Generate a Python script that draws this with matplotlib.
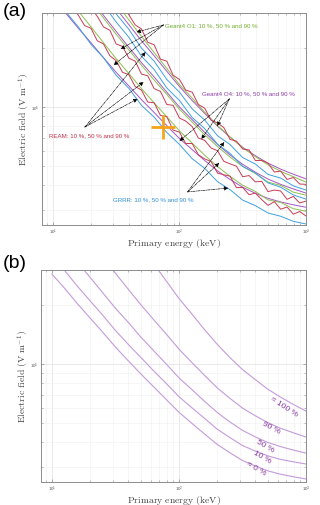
"""Runaway feasibility curves: simulated (a) and modelled (b) thresholds."""

import matplotlib.pyplot as plt
import numpy as np
from matplotlib.ticker import LogLocator, NullFormatter

plt.rcParams["mathtext.fontset"] = "cm"
plt.rcParams["font.family"] = ["Liberation Sans", "DejaVu Sans"]

# energy grids (keV), 0.05 and 0.1 decade steps, every series ends at 1 MeV
E_FINE = [10.0, 11.2, 12.6, 14.1, 15.8, 17.8, 20.0, 22.4, 25.1, 28.2, 31.6,
          35.5, 39.8, 44.7, 50.1, 56.2, 63.1, 70.8, 79.4, 89.1, 100, 112,
          126, 141, 158, 178, 200, 224, 251, 282, 316, 355, 398, 447, 501,
          562, 631, 708, 794, 891, 1000]
E_COARSE = [10.0, 12.6, 15.8, 20.0, 25.1, 31.6, 39.8, 50.1, 63.1, 79.4, 100,
            126, 158, 200, 251, 316, 398, 501, 631, 794, 1000]

# panel (a), field in kV/m
REAM_10 = [323, 294, 259, 251, 217, 209, 182, 172, 150, 146, 127, 122, 106,
           105, 90.6, 89.5, 76.4, 74.6, 65.3, 65.3, 57.3, 54.6, 52.9, 46.2,
           45.3, 44.6, 39.0, 39.1, 35.9, 36.6, 33.9, 31.7, 33.1, 30.3, 31.1,
           28.6, 29.5, 28.0]
REAM_50 = [318, 289, 255, 245, 209, 203, 177, 171, 147, 144, 124, 120, 103,
           102, 87.9, 84.9, 79.6, 69.6, 67.8, 61.9, 60.0, 53.1, 51.5, 50.1,
           44.3, 44.9, 41.7, 42.0, 37.2, 37.9, 37.5, 34.0, 35.2, 32.6, 33.3]
REAM_90 = [327, 294, 261, 249, 213, 207, 175, 171, 145, 138, 122, 119, 103,
           98.8, 85.7, 83.1, 78.7, 68.5, 67.2, 61.2, 60.6, 53.5, 53.6, 51.9,
           46.8, 47.3, 42.9, 43.9, 40.7, 40.5]
GRRR_10 = [305, 256, 208, 178, 145, 124.5, 102, 88.9, 74.3, 64.6, 54.7, 48.9,
           41.8, 38.1, 33.7, 31.6, 29.0, 27.9, 26.3, 25.5]
GRRR_50 = [331, 270, 226, 181, 155, 125, 108, 88.5, 77.8, 64.7, 58.2, 50.0,
           46.3, 41.2, 39.2, 35.8, 34.1]
GRRR_90 = [364, 297, 248, 199, 171, 138, 119, 97.8, 86.0, 71.5, 64.5, 55.4,
           51.4, 45.5, 43.6, 39.8, 37.9]
O1_10 = [308, 255, 212, 176, 148, 124, 105, 89.3, 75.7, 65.6, 57.0, 49.9,
         44.5, 40.1, 37.3, 33.8, 32.8, 30.5, 29.6]
O1_50 = [344, 283, 234, 195, 163, 137, 116, 97.5, 83.9, 72.4, 63.0, 55.7,
         49.9, 46.0, 41.6, 40.0, 37.0, 35.7]
O1_90 = [336, 277, 228, 189, 157, 130, 111, 94.4, 80.7, 70.5, 62.2, 56.0,
         50.9, 47.2, 44.3, 41.6]
O4_10 = [300, 252, 212, 178, 150, 128, 109, 93.8, 80.5, 69.2, 60.8, 53.6,
         47.4, 42.9, 39.2, 36.5, 34.4, 33.0, 31.9, 31.0]
O4_50 = [355, 292, 242, 201, 168, 142, 119, 100, 86.3, 74.5, 64.6, 57.1,
         51.2, 46.7, 43.1, 40.5, 38.4, 36.6]
O4_90 = [316, 262, 217, 182, 152, 127, 108, 92.9, 80.0, 70.3, 62.5, 56.6,
         51.9, 48.4, 45.6, 43.2]
CROSS_E = [73.9]
CROSS_F = [79.4]

# panel (b), field in kV/m
MODEL_LABELS = ["≈ 0 %", "10 %", "50 %", "90 %", "≈ 100 %"]
MODEL_0 = [286, 242, 203, 171, 145, 122, 104, 89.1, 76.7, 66.1, 56.9, 50.1,
           44.3, 39.1, 35.5, 32.4, 30.4, 28.7, 27.6, 26.8, 26.1]
MODEL_10 = [298, 249, 209, 177, 148, 126, 108, 92.4, 79.7, 68.3, 60.1, 53.2,
            46.7, 42.4, 38.6, 36.2, 34.2, 32.8, 31.9, 31.1]
MODEL_50 = [330, 275, 230, 192, 163, 137, 117, 100, 85.1, 74.3, 64.9, 56.8,
            50.9, 46.1, 42.7, 40.0, 38.1, 36.6, 35.3]
MODEL_90 = [351, 289, 240, 200, 168, 142, 119, 102, 87.9, 75.7, 67.1, 59.8,
            54.7, 50.4, 47.2, 44.8, 42.6]
MODEL_100 = [324, 264, 215, 180, 150, 126, 108, 93.8, 83.4, 74.5, 67.9, 62.4,
             57.7]

RED, BLUE, GREEN, PURPLE = "#c83c55", "#3fa0e0", "#8dc050", "#a656c2"
GREY = "#8c8c8c"


def draw(ax, grid, values, color, lw=0.7):
    ax.plot(grid[-len(values):], np.asarray(values) * 1e3, color=color, lw=lw)


def style(ax):
    ax.set_xscale("log")
    ax.set_yscale("log")
    ax.set_xlim(8.2, 1000)
    ax.set_ylim(2.52e4, 3.0e5)
    ax.xaxis.set_minor_locator(LogLocator(subs=np.arange(2, 10)))
    ax.yaxis.set_minor_locator(LogLocator(subs=np.arange(2, 10)))
    ax.xaxis.set_minor_formatter(NullFormatter())
    ax.yaxis.set_minor_formatter(NullFormatter())
    ax.tick_params(which="both", direction="in", top=True, right=True,
                   color=GREY, labelcolor="#555555", labelsize=3.2, pad=1.8)
    ax.tick_params(axis="x", pad=1.2)
    ax.tick_params(which="major", length=2.5, width=0.5)
    ax.tick_params(which="minor", length=1.3, width=0.4)
    ax.grid(which="major", color="#e2e2e2", lw=0.5)
    ax.grid(which="minor", color="#f0f0f0", lw=0.4)
    ax.set_axisbelow(True)
    for sp in ax.spines.values():
        sp.set_color(GREY)
        sp.set_linewidth(0.7)
    ax.set_xlabel(r"$\mathrm{Primary\ energy\ (keV)}$", fontsize=7,
                  color="#444444", labelpad=0)
    ax.set_ylabel(r"$\mathrm{Electric\ field\ (V\ m^{-1})}$", fontsize=7,
                  color="#444444", labelpad=-1.0)


def arrows(ax, origin, tips):
    for tip in tips:
        ax.annotate("", xy=tip, xytext=origin,
                    arrowprops=dict(arrowstyle="-|>",
                                    linestyle=(0, (4, 1.5, 1, 1.5)),
                                    lw=0.45, color="k", mutation_scale=6,
                                    shrinkA=0, shrinkB=0))


fig = plt.figure(figsize=(3.2, 5.06), dpi=100)
ax_a = fig.add_axes([42 / 320, 1 - 226 / 506, 264 / 320, 212 / 506])
ax_b = fig.add_axes([41 / 320, 1 - 483 / 506, 265 / 320, 212 / 506])

# (a) simulations
for vals in (O4_10, O4_50, O4_90):
    draw(ax_a, E_COARSE, vals, PURPLE)
for vals in (O1_10, O1_50, O1_90):
    draw(ax_a, E_COARSE, vals, GREEN)
for vals in (GRRR_10, GRRR_50, GRRR_90):
    draw(ax_a, E_COARSE, vals, BLUE)
for vals in (REAM_10, REAM_50, REAM_90):
    draw(ax_a, E_FINE, vals, RED)
ax_a.plot(CROSS_E, np.asarray(CROSS_F) * 1e3, marker="+", ms=17, mew=2,
          color="#f4a41c", ls="none")

txt = dict(fontsize=4.4, va="center", ha="left")
ax_a.text(76.2, 2.61e5, "Geant4 O1: 10 %, 50 % and 90 %", color="#6fae2c", **txt)
ax_a.text(152, 1.18e5, "Geant4 O4: 10 %, 50 % and 90 %", color="#8e3aa6", **txt)
ax_a.text(9.3, 7.21e4, "REAM: 10 %, 50 % and 90 %", color="#c0304a", **txt)
ax_a.text(29.7, 3.41e4, "GRRR: 10 %, 50 % and 90 %", color="#2f8fd8", **txt)
arrows(ax_a, (74.8, 2.61e5), [(45.8, 2.40e5), (34.3, 1.97e5), (30.2, 1.63e5)])
arrows(ax_a, (17.9, 7.92e4), [(46.7, 1.10e5), (52.1, 1.34e5), (54.0, 1.90e5)])
arrows(ax_a, (248, 1.10e5), [(199, 8.01e4), (149, 6.88e4), (100, 6.72e4)])
arrows(ax_a, (116, 3.71e4), [(226, 6.64e4), (206, 5.20e4), (243, 3.88e4)])
style(ax_a)

# (b) model
LAVENDER = "#c49bda"
for vals in (MODEL_0, MODEL_10, MODEL_50, MODEL_90, MODEL_100):
    draw(ax_b, E_COARSE, vals, LAVENDER, lw=0.8)
label_pos = [(403, 2.97e4, -30), (451, 3.41e4, -30), (475, 3.88e4, -30),
             (530, 4.79e4, -28), (671, 6.12e4, -33)]
for lab, (x, y, rot) in zip(MODEL_LABELS, label_pos):
    ax_b.text(x, y, lab, color="#8a3aa0", fontsize=6, rotation=rot,
              ha="center", va="center")
style(ax_b)

fig.text(0.008, 0.995, "(a)", fontsize=14, va="top", ha="left")
fig.text(0.008, 0.496, "(b)", fontsize=14, va="top", ha="left")

fig.savefig("out.png", dpi=100)
plt.close(fig)
